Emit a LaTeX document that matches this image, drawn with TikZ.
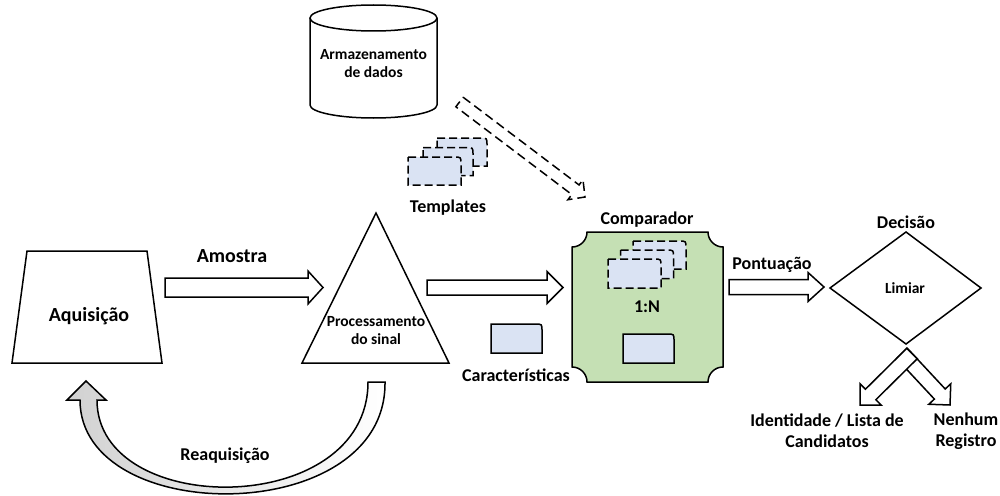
\documentclass[tikz,border=0pt]{standalone}
\usepackage{fontspec}
\setmainfont{Carlito}
\usetikzlibrary{calc}
\definecolor{cardblue}{RGB}{218,227,243}
\definecolor{compgreen}{RGB}{197,224,180}
\tikzset{
  figshape/.style={draw=black, line width=1.5pt, fill=white, line join=miter},
  lbl/.style={font=\bfseries\fontsize{18}{21}\selectfont, align=center, inner sep=0},
  biglbl/.style={font=\bfseries\fontsize{20}{23}\selectfont, align=center, inner sep=0},
  inlbl/.style={font=\bfseries\fontsize{15.5}{18}\selectfont, align=center, inner sep=0},
  barrow/.style={draw=black, line width=1.5pt, fill=white, line join=miter},
  dasharrow/.style={draw=black, line width=1.5pt, fill=white, line join=miter, dash pattern=on 9pt off 5pt},
  dcard/.style={draw=black, line width=1.5pt, fill=cardblue, dash pattern=on 8pt off 4pt},
  scard/.style={draw=black, line width=1.5pt, fill=cardblue},
}
% block arrow: #1 style, #2 tail coord name, #3 tip coord name, #4 half shaft, #5 half head, #6 head length
\newcommand\blockarrow[6]{%
  \coordinate (ba-h) at ($(#3)!#6!(#2)$);
  \draw[#1] ($(#2)!#4!90:(#3)$) -- ($(ba-h)!#4!90:(#3)$) -- ($(ba-h)!#5!90:(#3)$) -- (#3)
    -- ($(ba-h)!#5!-90:(#3)$) -- ($(ba-h)!#4!-90:(#3)$) -- ($(#2)!#4!-90:(#3)$) -- cycle;}
% card: #1 style, #2 x, #3 y (top left), #4 w, #5 h
\newcommand\mkcard[5]{%
  \draw[#1] (#2,#3) -- ({#2+#4-7},#3) .. controls ({#2+#4},#3) .. ({#2+#4},{#3+7})
    -- ({#2+#4},{#3+#5}) -- (#2,{#3+#5}) -- cycle;}
\begin{document}
\begin{tikzpicture}[x=1pt,y=-1pt]
\useasboundingbox (0,0) rectangle (1000,495);

% database cylinder
\draw[figshape] (310,18) -- (310,105) arc[start angle=180, end angle=0, x radius=63.5, y radius=13] -- (437,18);
\draw[figshape] (373.5,18) ellipse[x radius=63.5, y radius=13];
\node[inlbl] (db) at (373.5,64) {Armazenamento\\de dados};

% dashed arrow from storage to comparator
\coordinate (dbout) at (459.5,102);
\coordinate (compin) at (585,197);
\blockarrow{dasharrow}{dbout}{compin}{6pt}{12.5pt}{12pt}

% templates stack
\mkcard{dcard}{437}{138}{50}{28}
\mkcard{dcard}{423}{147.5}{50}{28}
\mkcard{dcard}{408}{157}{53}{28}
\node[lbl] (templates) at (448,208) {Templates};

% acquisition trapezoid
\draw[figshape] (27,251) -- (147,251) -- (162,363) -- (12,363) -- cycle;
\node[biglbl] (aq) at (89,316) {Aquisição};

% amostra arrow
\coordinate (aqout) at (165,287.5);
\coordinate (procin) at (323,287.5);
\blockarrow{barrow}{aqout}{procin}{9.5pt}{16.5pt}{15pt}
\node[biglbl] (amostra) at (232,256) {Amostra};

% processing triangle
\draw[figshape] (376,213) -- (449,363) -- (302,363) -- cycle;
\node[inlbl] (proc) at (376,331) {Processamento\\do sinal};

% processing -> comparator
\coordinate (procout) at (427,287.5);
\coordinate (compleft) at (563,287.5);
\blockarrow{barrow}{procout}{compleft}{7.5pt}{16pt}{16pt}

% features card
\mkcard{scard}{491}{324}{51}{29}
\node[lbl] (feat) at (516,375) {Características};

% reacquisition curved arrow
\draw[line width=1.5pt, left color=black!18, right color=white, line join=miter]
  (385,382) .. controls (387,528) and (80,528) .. (80,400) -- (67,400) -- (86,381) -- (106,400) -- (97,400)
  .. controls (97,519) and (368,519) .. (368,382) -- cycle;
\node[lbl] (reaq) at (225,456) {Reaquisição};

% comparator
\draw[line width=1.5pt, fill=compgreen] (587,232) -- (708,232) arc[start angle=180, end angle=90, radius=15]
  -- (723,367) arc[start angle=270, end angle=180, radius=15]
  -- (587,382) arc[start angle=360, end angle=270, radius=15]
  -- (572,247) arc[start angle=90, end angle=0, radius=15] -- cycle;
\node[lbl] (comp) at (647,220) {Comparador};
\mkcard{dcard}{633}{241}{53}{28}
\mkcard{dcard}{620.5}{250}{53}{28.5}
\mkcard{dcard}{608}{259}{53}{29}
\node[lbl] (oneN) at (647,307) {1:N};
\mkcard{scard}{623}{334}{51}{29}

% pontuacao arrow
\coordinate (compout) at (729,287);
\coordinate (decin) at (824,287);
\blockarrow{barrow}{compout}{decin}{7.5pt}{14.5pt}{16pt}
\node[lbl] (pont) at (772,265) {Pontuação};

% decision diamond
\draw[figshape] (830,288) -- (906,232) -- (981,288) -- (906,344) -- cycle;
\node[lbl] (dec) at (906,222) {Decisão};
\node[inlbl] (lim) at (905,288) {Limiar};

% output arrows
\coordinate (decoutR) at (902,353.5);
\coordinate (noreg) at (950,405);
\coordinate (decoutL) at (912,353.5);
\coordinate (ident) at (860,405);
\blockarrow{barrow}{decoutR}{noreg}{7.4pt}{15pt}{15pt}
\blockarrow{barrow}{decoutL}{ident}{7.4pt}{15pt}{15pt}
\node[lbl] (idl) at (827,431) {Identidade / Lista de\\Candidatos};
\node[lbl] (nreg) at (966,431) {Nenhum\\Registro};
\end{tikzpicture}
\end{document}
